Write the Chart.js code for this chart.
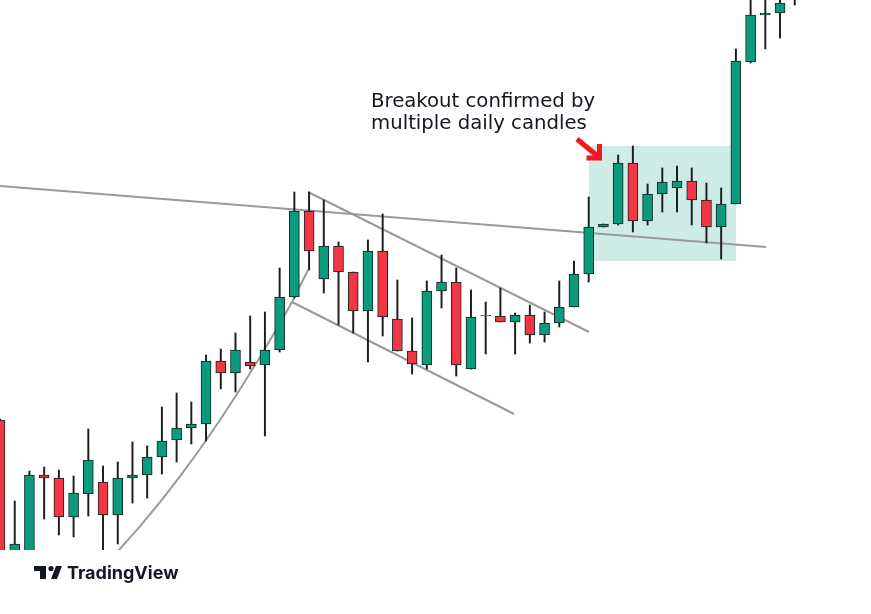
<!DOCTYPE html>
<html>
<head>
<meta charset="utf-8">
<title>Breakout chart</title>
<script src="https://cdn.jsdelivr.net/npm/chart.js@4.4.1/dist/chart.umd.min.js"></script>
<style>
  html, body { margin: 0; padding: 0; background: #ffffff; }
  #wrap { width: 871px; height: 614px; position: relative; }
</style>
</head>
<body>
<div id="wrap"><canvas id="myChart"></canvas></div>
<script>
'use strict';

// daily candles, oldest first (price units)
let opens = [
  180, 44, 44, 125, 122, 83, 106, 118, 85, 122,
  125, 143, 160, 172, 176, 239, 227, 238, 235, 250,
  303, 389, 321, 354, 328, 289, 349, 281, 249, 235,
  309, 318, 231, 284, 284, 278, 285, 265, 277, 293,
  326, 373, 376, 437, 379, 406, 412, 419, 400, 373,
  396, 538, 585, 587, 605
];
let highs = [
  181, 99, 129, 133, 130, 124, 171, 134, 138, 158,
  154, 193, 207, 198, 245, 251, 267, 284, 288, 332,
  408, 408, 400, 358, 328, 360, 386, 320, 282, 319,
  345, 332, 310, 298, 312, 287, 295, 288, 319, 339,
  403, 376, 445, 454, 416, 432, 434, 432, 417, 412,
  551, 612, 615, 620, 640
];
let lows = [
  40, 38, 38, 81, 65, 63, 84, 45, 56, 97,
  102, 126, 138, 156, 159, 211, 208, 231, 164, 248,
  302, 330, 307, 275, 267, 238, 264, 249, 226, 231,
  292, 224, 231, 246, 278, 246, 257, 258, 273, 293,
  318, 373, 375, 368, 375, 388, 388, 375, 357, 341,
  396, 537, 551, 562, 595
];
let closes = [
  40, 56, 125, 122, 83, 107, 140, 85, 122, 125,
  143, 159, 172, 176, 239, 227, 250, 234, 250, 303,
  389, 349, 354, 328, 289, 349, 283, 249, 236, 309,
  318, 235, 283, 284.6, 278, 285, 265, 277, 293, 326,
  373, 376, 437, 379, 406, 418, 419, 400, 373, 396,
  539, 585, 587, 597, 630
];

// drawn lines (x in candle index, y in price)
let resistanceLine = [ { x: 0, y: 414 }, { x: 52.05, y: 353 } ];
let channelTop = [ { x: 20.93, y: 408 }, { x: 40.02, y: 268 } ];
let channelBottom = [ { x: 19.84, y: 298 }, { x: 34.93, y: 186 } ];
let trendCurve = [
  { x: 7.75, y: 45 }, { x: 8.02, y: 49 }, { x: 9.51, y: 73.6 }, { x: 10.87, y: 97.8 },
  { x: 12.23, y: 123.6 }, { x: 13.59, y: 151 }, { x: 14.95, y: 180 }, { x: 16.31, y: 210.7 },
  { x: 17.67, y: 243 }, { x: 19.03, y: 276.9 }, { x: 19.84, y: 298 }, { x: 20.93, y: 330 }
];

// consolidation box and arrow
let boxX = [ 40.02, 50.01 ];
let boxY = [ 339, 454 ];
let arrowTail = { x: 39.2, y: 461 };
let arrowTip = { x: 40.8, y: 441 };
let noteLines = [ 'Breakout confirmed by', 'multiple daily candles' ];

const GREEN = '#0a9a7c';
const RED = '#f23645';

let bodies = [];
let wicks = [];
let bodyColors = [];
for ( let i = 0; i < opens.length; i++ ) {
  bodies.push( { x: i, y: [ opens[i], closes[i] ] } );
  wicks.push( { x: i, y: [ lows[i], highs[i] ] } );
  bodyColors.push( closes[i] >= opens[i] ? GREEN : RED );
}

let lineStyle = {
  type: 'line',
  borderColor: '#9a9a9a',
  borderWidth: 2,
  pointRadius: 0,
  tension: 0,
  order: 3
};

let extras = {
  id: 'extras',
  beforeDatasetsDraw( chart ) {
    const { ctx, scales: { x, y } } = chart;
    ctx.save();
    ctx.fillStyle = 'rgba(8, 153, 129, 0.2)';
    let left = x.getPixelForValue( boxX[0] );
    let right = x.getPixelForValue( boxX[1] );
    let top = y.getPixelForValue( boxY[1] );
    let bottom = y.getPixelForValue( boxY[0] );
    ctx.fillRect( left, top, right - left, bottom - top );
    ctx.restore();
  },
  afterDraw( chart ) {
    const { ctx, scales: { x, y } } = chart;
    ctx.save();

    // red arrow
    let tx = x.getPixelForValue( arrowTip.x );
    let ty = y.getPixelForValue( arrowTip.y );
    let sx = x.getPixelForValue( arrowTail.x );
    let sy = y.getPixelForValue( arrowTail.y );
    ctx.strokeStyle = '#f7161c';
    ctx.lineWidth = 5;
    ctx.lineCap = 'butt';
    ctx.lineJoin = 'miter';
    ctx.beginPath();
    ctx.moveTo( sx, sy );
    ctx.lineTo( tx - 3, ty - 3 );
    ctx.stroke();
    ctx.beginPath();
    ctx.moveTo( tx - 14, ty - 1 );
    ctx.lineTo( tx - 1, ty - 1 );
    ctx.lineTo( tx - 1, ty - 15 );
    ctx.stroke();

    // note text
    ctx.fillStyle = '#131722';
    ctx.font = '19.7px "DejaVu Sans"';
    ctx.textBaseline = 'alphabetic';
    ctx.fillText( noteLines[0], 371, 107 );
    ctx.fillText( noteLines[1], 371, 129 );

    // TradingView logo
    ctx.fillStyle = '#131722';
    ctx.fillRect( 34, 566, 12, 5 );
    ctx.fillRect( 40, 566, 6, 13 );
    ctx.beginPath();
    ctx.arc( 51, 568.5, 2.6, 0, Math.PI * 2 );
    ctx.fill();
    ctx.beginPath();
    ctx.moveTo( 51, 579 );
    ctx.lineTo( 56, 566 );
    ctx.lineTo( 62, 566 );
    ctx.lineTo( 57, 579 );
    ctx.closePath();
    ctx.fill();
    ctx.font = 'bold 18px Inter';
    ctx.fillText( 'TradingView', 67, 579 );
    ctx.restore();
  }
};

let ctx = document.getElementById( 'myChart' ).getContext( '2d' );
let myChart = new Chart( ctx, {
  type: 'bar',
  data: {
    datasets: [
      {
        data: bodies,
        backgroundColor: bodyColors,
        borderColor: '#14231f',
        borderWidth: 1,
        borderSkipped: false,
        barThickness: 10,
        grouped: false,
        order: 0
      },
      {
        data: wicks,
        backgroundColor: '#1c1c1c',
        borderWidth: 0,
        barThickness: 1.3,
        grouped: false,
        order: 1
      },
      Object.assign( { data: resistanceLine }, lineStyle ),
      Object.assign( { data: channelTop }, lineStyle ),
      Object.assign( { data: channelBottom }, lineStyle ),
      Object.assign( { data: trendCurve }, lineStyle )
    ]
  },
  options: {
    responsive: true,
    maintainAspectRatio: false,
    animation: false,
    layout: { padding: { left: 0, right: 0, top: 0, bottom: 64 } },
    plugins: {
      legend: { display: false },
      tooltip: { enabled: false }
    },
    scales: {
      x: { type: 'linear', min: 0, max: 59.18, display: false, offset: false },
      y: { type: 'linear', min: 50, max: 600, display: false }
    }
  },
  plugins: [ extras ]
} );
</script>
</body>
</html>
